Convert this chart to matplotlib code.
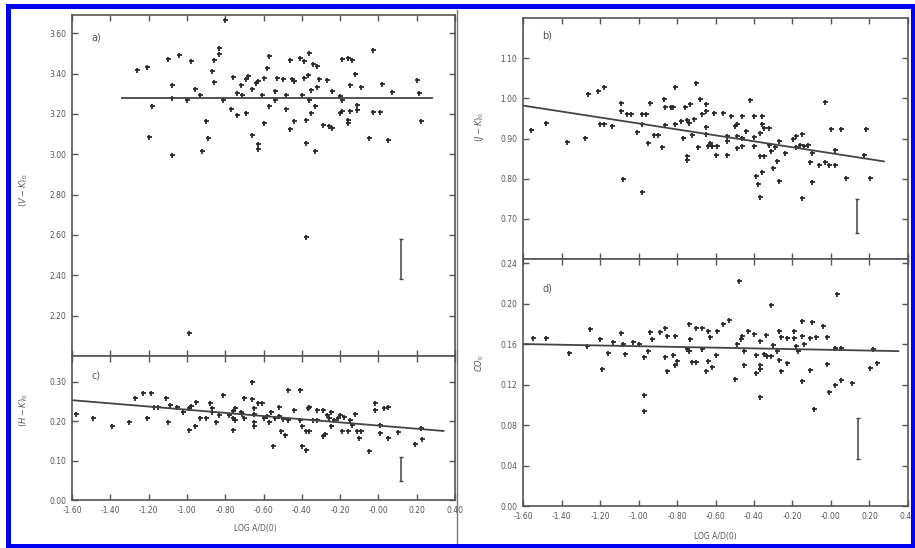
import numpy as np
import matplotlib
matplotlib.use("Agg")
import matplotlib.pyplot as plt
from matplotlib.patches import Rectangle
from matplotlib.lines import Line2D
from matplotlib.ticker import FormatStrFormatter

# ---- a) (V-K)0 vs log A/D(0)
a_x = [-1.26, -1.21, -1.18, -1.20, -1.10, -1.08, -1.08, -1.08, -1.04, -1.00,
       -0.98, -0.96, -0.93, -0.92, -0.90, -0.89, -0.87, -0.86, -0.86, -0.83,
       -0.83, -0.81, -0.80, -0.76, -0.77, -0.74, -0.74, -0.72, -0.71, -0.69,
       -0.68, -0.69, -0.66, -0.64, -0.63, -0.66, -0.63, -0.63, -0.61, -0.60,
       -0.60, -0.58, -0.57, -0.57, -0.54, -0.54, -0.53, -0.50, -0.48, -0.48,
       -0.46, -0.45, -0.44, -0.46, -0.44, -0.41, -0.39, -0.40, -0.39, -0.37,
       -0.38, -0.38, -0.36, -0.36, -0.35, -0.35, -0.34, -0.32, -0.33, -0.33,
       -0.32, -0.31, -0.27, -0.29, -0.26, -0.24, -0.24, -0.20, -0.19, -0.20,
       -0.19, -0.19, -0.16, -0.14, -0.16, -0.16, -0.15, -0.15, -0.12, -0.11,
       -0.11, -0.09, -0.05, -0.03, -0.03, 0.01, 0.02, 0.05, 0.07, 0.20,
       0.21, 0.22, -0.38, -0.99]
a_y = [3.415, 3.430, 3.240, 3.085, 3.470, 3.345, 3.280, 2.995, 3.490, 3.270,
       3.460, 3.325, 3.295, 3.015, 3.165, 3.080, 3.410, 3.465, 3.360, 3.525,
       3.495, 3.270, 3.665, 3.385, 3.225, 3.195, 3.305, 3.345, 3.295, 3.375,
       3.390, 3.205, 3.325, 3.355, 3.365, 3.095, 3.050, 3.025, 3.295, 3.155,
       3.380, 3.425, 3.240, 3.485, 3.315, 3.270, 3.380, 3.375, 3.295, 3.225,
       3.465, 3.375, 3.365, 3.125, 3.165, 3.475, 3.460, 3.295, 3.380, 3.395,
       3.170, 3.055, 3.500, 3.270, 3.205, 3.320, 3.445, 3.435, 3.240, 3.015,
       3.335, 3.375, 3.370, 3.145, 3.140, 3.130, 3.315, 3.205, 3.215, 3.290,
       3.270, 3.470, 3.475, 3.465, 3.155, 3.170, 3.215, 3.345, 3.400, 3.245,
       3.220, 3.335, 3.080, 3.515, 3.210, 3.210, 3.350, 3.070, 3.310, 3.370,
       3.305, 3.165, 2.590, 2.115]

# ---- c) (H-K)0
c_x = [-1.58, -1.49, -1.39, -1.30, -1.27, -1.23, -1.19, -1.21, -1.17, -1.15,
       -1.11, -1.10, -1.09, -1.05, -1.02, -0.99, -0.98, -0.95, -0.99, -0.96,
       -0.93, -0.90, -0.88, -0.87, -0.87, -0.83, -0.85, -0.81, -0.78, -0.76,
       -0.75, -0.76, -0.75, -0.76, -0.72, -0.71, -0.70, -0.70, -0.66, -0.66,
       -0.65, -0.65, -0.65, -0.65, -0.63, -0.61, -0.60, -0.58, -0.56, -0.57,
       -0.54, -0.55, -0.52, -0.52, -0.51, -0.49, -0.50, -0.47, -0.47, -0.41,
       -0.44, -0.41, -0.40, -0.40, -0.38, -0.38, -0.36, -0.37, -0.36, -0.34,
       -0.32, -0.32, -0.29, -0.29, -0.28, -0.27, -0.26, -0.25, -0.25, -0.23,
       -0.21, -0.20, -0.18, -0.19, -0.16, -0.15, -0.14, -0.12, -0.11, -0.10,
       -0.09, -0.05, -0.02, -0.02, 0.01, 0.01, 0.03, 0.05, 0.05, 0.10,
       0.19, 0.23, 0.22]
c_y = [0.219, 0.209, 0.188, 0.198, 0.259, 0.270, 0.270, 0.208, 0.236, 0.236,
       0.259, 0.197, 0.240, 0.236, 0.222, 0.234, 0.239, 0.249, 0.177, 0.188,
       0.208, 0.208, 0.247, 0.232, 0.223, 0.215, 0.198, 0.267, 0.215, 0.225,
       0.234, 0.208, 0.202, 0.177, 0.224, 0.218, 0.207, 0.259, 0.256, 0.299,
       0.232, 0.218, 0.198, 0.187, 0.247, 0.247, 0.208, 0.213, 0.224, 0.198,
       0.208, 0.137, 0.236, 0.214, 0.175, 0.166, 0.206, 0.202, 0.278, 0.278,
       0.228, 0.202, 0.187, 0.137, 0.127, 0.175, 0.175, 0.232, 0.236, 0.202,
       0.202, 0.228, 0.228, 0.163, 0.168, 0.215, 0.208, 0.224, 0.187, 0.202,
       0.207, 0.215, 0.211, 0.175, 0.175, 0.202, 0.190, 0.218, 0.175, 0.156,
       0.175, 0.124, 0.246, 0.228, 0.191, 0.169, 0.234, 0.236, 0.156, 0.172,
       0.143, 0.154, 0.183]

# ---- b) (J-K)0
b_x = [-1.56, -1.48, -1.37, -1.28, -1.26, -1.21, -1.18, -1.20, -1.18, -1.14,
       -1.09, -1.09, -1.06, -1.04, -1.08, -1.01, -0.98, -0.96, -0.98, -0.98,
       -0.95, -0.94, -0.92, -0.90, -0.88, -0.87, -0.86, -0.86, -0.83, -0.82,
       -0.81, -0.81, -0.78, -0.77, -0.76, -0.73, -0.75, -0.74, -0.75, -0.75,
       -0.72, -0.71, -0.70, -0.69, -0.68, -0.67, -0.65, -0.65, -0.65, -0.65,
       -0.64, -0.63, -0.60, -0.61, -0.56, -0.62, -0.59, -0.54, -0.52, -0.50,
       -0.49, -0.54, -0.54, -0.49, -0.46, -0.49, -0.46, -0.44, -0.46, -0.42,
       -0.40, -0.36, -0.40, -0.40, -0.37, -0.37, -0.35, -0.36, -0.35, -0.32,
       -0.39, -0.38, -0.36, -0.37, -0.32, -0.31, -0.29, -0.30, -0.28, -0.27,
       -0.27, -0.24, -0.20, -0.18, -0.15, -0.18, -0.15, -0.16, -0.14, -0.12,
       -0.11, -0.10, -0.10, -0.06, -0.03, -0.03, -0.01, 0.02, 0.00, 0.05,
       0.02, 0.08, 0.17, 0.18, 0.20]
b_y = [0.922, 0.939, 0.891, 0.902, 1.010, 1.018, 1.028, 0.937, 0.937, 0.931,
       0.989, 0.968, 0.960, 0.960, 0.798, 0.917, 0.960, 0.960, 0.937, 0.767,
       0.888, 0.989, 0.908, 0.908, 0.878, 0.998, 0.978, 0.933, 0.978, 0.978,
       1.027, 0.935, 0.943, 0.902, 0.978, 0.987, 0.945, 0.939, 0.856, 0.847,
       0.908, 0.948, 1.037, 0.878, 0.998, 0.960, 0.968, 0.985, 0.928, 0.910,
       0.881, 0.889, 0.860, 0.964, 0.964, 0.881, 0.881, 0.858, 0.956, 0.931,
       0.937, 0.906, 0.893, 0.906, 0.902, 0.877, 0.956, 0.918, 0.881, 0.995,
       0.956, 0.956, 0.903, 0.881, 0.914, 0.856, 0.856, 0.935, 0.927, 0.927,
       0.806, 0.787, 0.816, 0.754, 0.885, 0.868, 0.878, 0.827, 0.845, 0.795,
       0.893, 0.864, 0.900, 0.906, 0.910, 0.878, 0.753, 0.885, 0.881, 0.885,
       0.842, 0.864, 0.792, 0.835, 0.842, 0.992, 0.835, 0.835, 0.924, 0.924,
       0.872, 0.802, 0.860, 0.923, 0.802]

# ---- d) CO0
d_x = [-1.55, -1.48, -1.36, -1.27, -1.25, -1.20, -1.19, -1.16, -1.13, -1.09,
       -1.07, -1.08, -1.03, -1.00, -0.97, -0.97, -0.97, -0.95, -0.94, -0.93,
       -0.89, -0.86, -0.85, -0.86, -0.85, -0.81, -0.80, -0.81, -0.82, -0.74,
       -0.75, -0.74, -0.73, -0.72, -0.70, -0.70, -0.67, -0.67, -0.65, -0.64,
       -0.63, -0.64, -0.62, -0.60, -0.59, -0.56, -0.53, -0.50, -0.49, -0.47,
       -0.48, -0.46, -0.43, -0.45, -0.45, -0.40, -0.39, -0.39, -0.37, -0.37,
       -0.37, -0.37, -0.34, -0.35, -0.33, -0.31, -0.31, -0.30, -0.28, -0.27,
       -0.26, -0.27, -0.26, -0.23, -0.23, -0.19, -0.19, -0.18, -0.17, -0.15,
       -0.15, -0.10, -0.15, -0.11, -0.14, -0.11, -0.09, -0.08, -0.04, -0.02,
       -0.02, -0.01, 0.02, 0.05, 0.03, 0.02, 0.05, 0.11, 0.22, 0.20,
       0.24]
d_y = [0.166, 0.166, 0.151, 0.158, 0.175, 0.165, 0.135, 0.151, 0.162, 0.171,
       0.150, 0.160, 0.162, 0.160, 0.147, 0.110, 0.094, 0.153, 0.172, 0.165,
       0.172, 0.176, 0.168, 0.147, 0.133, 0.168, 0.143, 0.139, 0.149, 0.180,
       0.155, 0.153, 0.165, 0.142, 0.142, 0.176, 0.176, 0.155, 0.133, 0.173,
       0.167, 0.143, 0.137, 0.149, 0.173, 0.180, 0.184, 0.125, 0.160, 0.165,
       0.222, 0.168, 0.173, 0.153, 0.139, 0.170, 0.149, 0.131, 0.135, 0.139,
       0.108, 0.163, 0.169, 0.150, 0.148, 0.148, 0.199, 0.159, 0.153, 0.144,
       0.133, 0.173, 0.167, 0.141, 0.166, 0.166, 0.173, 0.158, 0.153, 0.123,
       0.183, 0.182, 0.168, 0.166, 0.160, 0.134, 0.096, 0.167, 0.178, 0.167,
       0.140, 0.113, 0.120, 0.124, 0.209, 0.156, 0.156, 0.122, 0.155, 0.136,
       0.141]

# regression lines (end points)
fit_a_x, fit_a_y = [-1.34, 0.28], [3.28, 3.28]
fit_c_x, fit_c_y = [-1.60, 0.34], [0.253, 0.175]
fit_b_x, fit_b_y = [-1.60, 0.275], [0.982, 0.843]
fit_d_x, fit_d_y = [-1.60, 0.35], [0.160, 0.153]

# typical error bars: x, low, high
err_a = (0.12, 2.38, 2.58)
err_c = (0.12, 0.048, 0.109)
err_b = (0.135, 0.665, 0.750)
err_d = (0.14, 0.046, 0.087)

x_ticks = np.arange(-1.6, 0.41, 0.2)
x_label = "LOG A/D(0)"

W, H = 915, 548
ink = "#2a2a2a"
txt = "#555555"

fig = plt.figure(figsize=(W / 100, H / 100), dpi=100)
fig.patch.set_facecolor("white")


def box(l, t, r, b):
    return [l / W, 1 - b / H, (r - l) / W, (b - t) / H]


ax_a = fig.add_axes(box(72, 15, 455, 356))
ax_c = fig.add_axes(box(72, 356, 455, 500))
ax_b = fig.add_axes(box(523, 18, 908, 259))
ax_d = fig.add_axes(box(523, 259, 908, 506))

panels = [
    (ax_a, a_x, a_y, fit_a_x, fit_a_y, err_a, (2.0, 3.69), np.arange(2.2, 3.61, 0.2), "a)"),
    (ax_c, c_x, c_y, fit_c_x, fit_c_y, err_c, (0.0, 0.365), np.arange(0.0, 0.31, 0.1), "c)"),
    (ax_b, b_x, b_y, fit_b_x, fit_b_y, err_b, (0.6, 1.2), np.arange(0.7, 1.11, 0.1), "b)"),
    (ax_d, d_x, d_y, fit_d_x, fit_d_y, err_d, (0.0, 0.244), np.arange(0.0, 0.241, 0.04), "d)"),
]

for ax, xs, ys, fx, fy, err, ylim, yt, tag in panels:
    ax.plot(xs, ys, "+", color=ink, ms=3.6, mew=1.3)
    ax.plot(fx, fy, "-", color="#444444", lw=1.3)
    ex, lo, hi = err
    mid = (lo + hi) / 2
    ax.errorbar([ex], [mid], yerr=[[mid - lo], [hi - mid]], fmt="none",
                ecolor="#444444", elinewidth=1.1, capsize=1.5, capthick=1.0)
    ax.set_xlim(-1.6, 0.4)
    ax.set_ylim(*ylim)
    ax.set_xticks(x_ticks)
    ax.set_yticks(yt)
    ax.yaxis.set_major_formatter(FormatStrFormatter("%.2f"))
    ax.xaxis.set_major_formatter(FormatStrFormatter("%.2f"))
    ax.tick_params(direction="in", top=True, right=True, length=4, width=1.0,
                   color="#555555", labelsize=5.5, labelcolor=txt, pad=4)
    for s in ax.spines.values():
        s.set_color("#555555")
        s.set_linewidth(1.2)
    ax.text(0.05, 0.95 if tag in ("a)", "b)") else 0.90, tag, transform=ax.transAxes,
            fontsize=7, color=txt, ha="left", va="top")

ax_a.tick_params(labelbottom=False)
ax_b.tick_params(labelbottom=False)

# y axis titles
fig.text(24 / W, 1 - 190 / H, r"$(V-K)_0$", rotation=90, fontsize=6, color=txt, ha="center", va="center")
fig.text(24 / W, 1 - 410 / H, r"$(H-K)_0$", rotation=90, fontsize=6, color=txt, ha="center", va="center")
fig.text(480 / W, 1 - 127 / H, r"$(J-K)_0$", rotation=90, fontsize=6, color=txt, ha="center", va="center")
fig.text(480 / W, 1 - 363 / H, r"$CO_0$", rotation=90, fontsize=6, color=txt, ha="center", va="center")

# x axis titles
fig.text(255 / W, 1 - 528 / H, x_label, fontsize=5.5, color=txt, ha="center", va="center")
fig.text(715 / W, 1 - 537 / H, x_label, fontsize=5.5, color=txt, ha="center", va="center")

# page fold between the two halves
fig.lines.append(Line2D([456.5 / W, 456.5 / W], [1 - 543 / H, 1 - 10 / H],
                        transform=fig.transFigure, color="#777777", lw=1.0))

# blue frame
fig.patches.append(Rectangle((7.5 / W, 1 - 545.5 / H), 905 / W, 540 / H,
                             transform=fig.transFigure, fill=False,
                             edgecolor="#0000f0", lw=3.6))

fig.savefig("out.png", dpi=100)
